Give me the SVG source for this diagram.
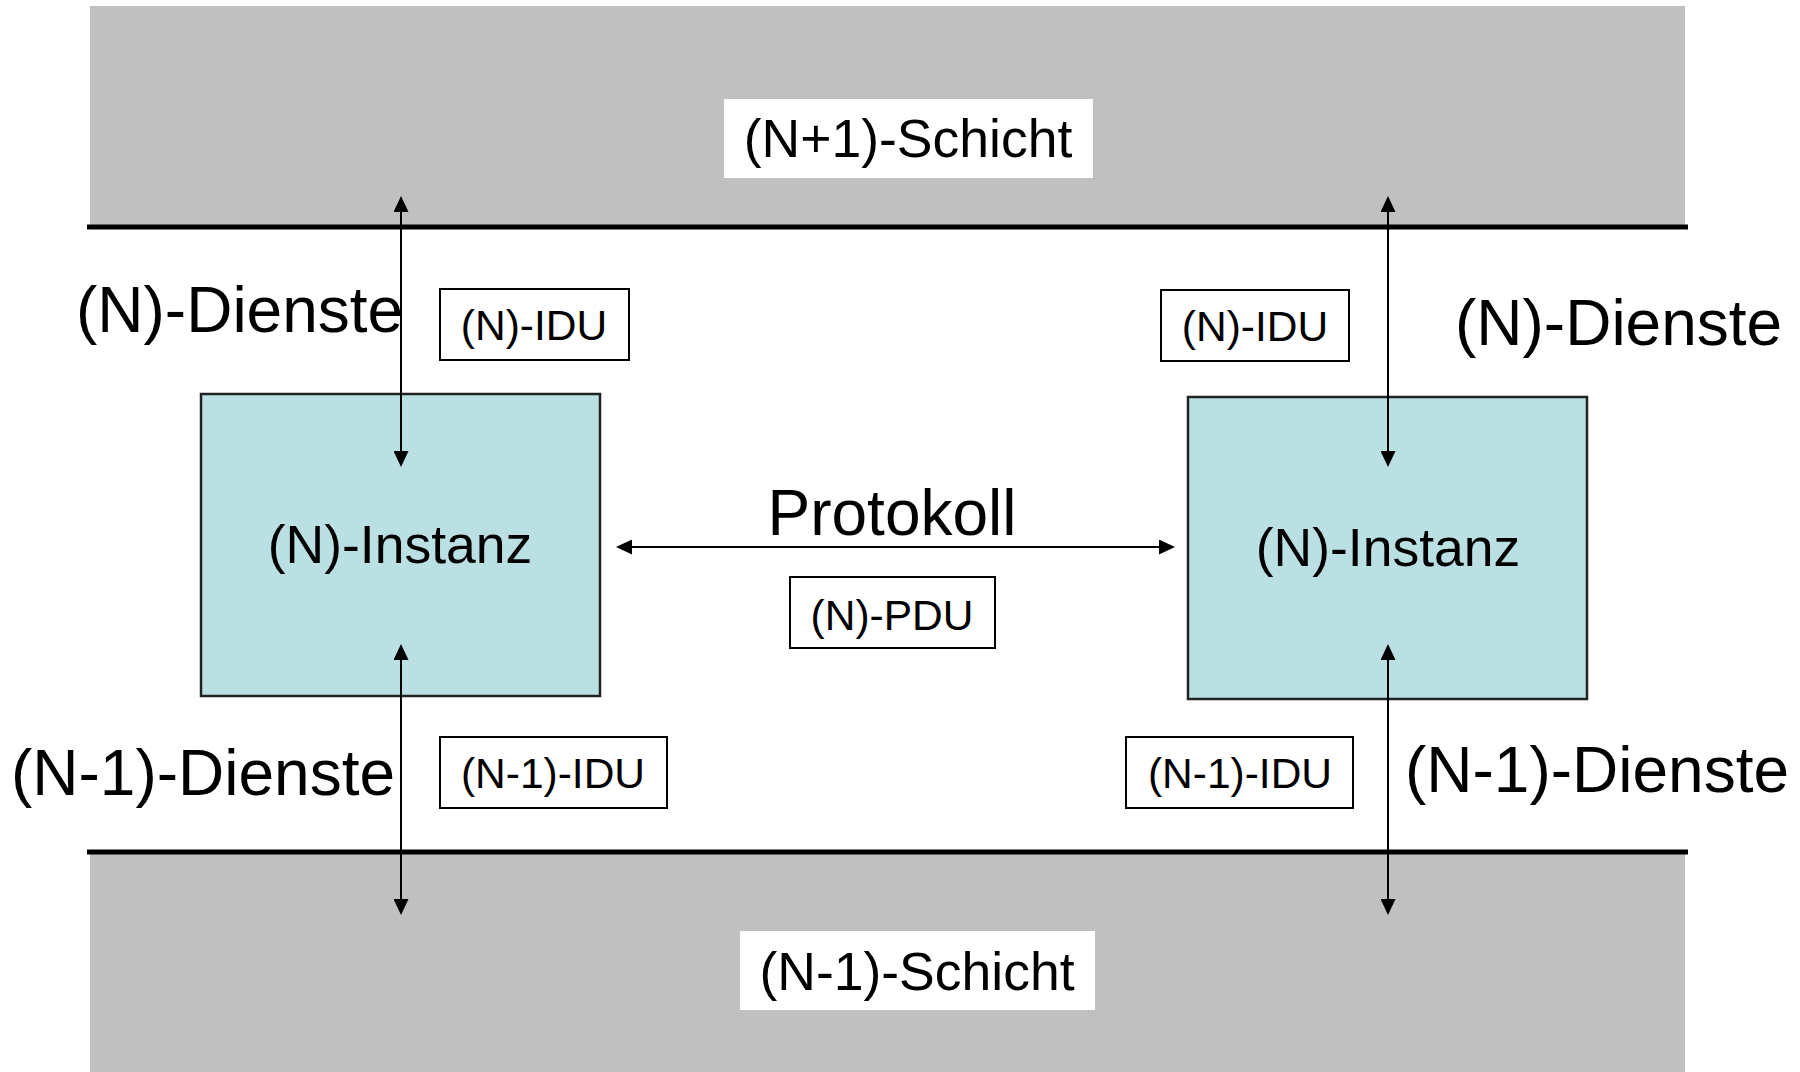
<svg xmlns="http://www.w3.org/2000/svg" width="1800" height="1072" viewBox="0 0 1800 1072">
  <style>
    text { font-family: "Liberation Sans", Arial, sans-serif; fill: #000; }
    .big { font-size: 64px; }
    .mid { font-size: 53.5px; }
    .small { font-size: 42.5px; }
    .layer { fill: #c0c0c0; }
    .tag { fill: #fff; }
    .boundary { stroke: #000; stroke-width: 5; fill: none; }
    .inst { fill: #bbe0e3; stroke: #222; stroke-width: 2.5; }
    .pdu { fill: #fff; stroke: #000; stroke-width: 2; }
    .conn { stroke: #000; stroke-width: 2; fill: none; marker-start: url(#head); marker-end: url(#head); }
  </style>
  <defs>
    <marker id="head" viewBox="0 0 16 15" markerWidth="16" markerHeight="15" refX="14" refY="7.5" orient="auto-start-reverse" markerUnits="userSpaceOnUse">
      <path d="M0,0 L16,7.5 L0,15 z" fill="#000"/>
    </marker>
  </defs>

  <rect width="1800" height="1072" fill="#fff"/>

  <!-- upper layer -->
  <g id="layer-upper">
    <rect class="layer" x="90" y="6" width="1595" height="221"/>
    <rect class="tag" x="724" y="99" width="369" height="79"/>
    <text class="mid" x="908" y="157" text-anchor="middle">(N+1)-Schicht</text>
  </g>

  <!-- lower layer -->
  <g id="layer-lower">
    <rect class="layer" x="90" y="852" width="1595" height="220"/>
    <rect class="tag" x="740" y="931" width="355" height="79"/>
    <text class="mid" x="917" y="990" text-anchor="middle">(N-1)-Schicht</text>
  </g>

  <!-- layer boundaries -->
  <g id="boundaries">
    <line class="boundary" x1="87" y1="227" x2="1688" y2="227"/>
    <line class="boundary" x1="87" y1="852" x2="1688" y2="852"/>
  </g>

  <!-- instances -->
  <g id="instance-left">
    <rect class="inst" x="201" y="394" width="399" height="302"/>
    <text class="mid" x="400" y="563" text-anchor="middle">(N)-Instanz</text>
  </g>
  <g id="instance-right">
    <rect class="inst" x="1188" y="397" width="399" height="302"/>
    <text class="mid" x="1388" y="566" text-anchor="middle">(N)-Instanz</text>
  </g>

  <!-- data unit tags -->
  <g id="idu-n-left">
    <rect class="pdu" x="440" y="289" width="189" height="71"/>
    <text class="small" x="534" y="340" text-anchor="middle">(N)-IDU</text>
  </g>
  <g id="idu-n-right">
    <rect class="pdu" x="1161" y="290" width="188" height="71"/>
    <text class="small" x="1255" y="341" text-anchor="middle">(N)-IDU</text>
  </g>
  <g id="idu-n1-left">
    <rect class="pdu" x="440" y="737" width="227" height="71"/>
    <text class="small" x="553" y="788" text-anchor="middle">(N-1)-IDU</text>
  </g>
  <g id="idu-n1-right">
    <rect class="pdu" x="1126" y="737" width="227" height="71"/>
    <text class="small" x="1240" y="788" text-anchor="middle">(N-1)-IDU</text>
  </g>
  <g id="pdu">
    <rect class="pdu" x="790" y="577" width="205" height="71"/>
    <text class="small" x="892" y="630" text-anchor="middle">(N)-PDU</text>
  </g>

  <!-- service and protocol labels -->
  <g id="labels">
    <text class="big" x="76" y="332">(N)-Dienste</text>
    <text class="big" x="1455" y="345">(N)-Dienste</text>
    <text class="big" x="11" y="795">(N-1)-Dienste</text>
    <text class="big" x="1405" y="792">(N-1)-Dienste</text>
    <text class="big" x="892" y="535" text-anchor="middle">Protokoll</text>
  </g>

  <!-- connectors -->
  <g id="connectors">
    <line class="conn" x1="401" y1="198" x2="401" y2="465"/>
    <line class="conn" x1="1388" y1="198" x2="1388" y2="465"/>
    <line class="conn" x1="401" y1="646" x2="401" y2="913"/>
    <line class="conn" x1="1388" y1="646" x2="1388" y2="913"/>
    <line class="conn" x1="618" y1="547" x2="1173" y2="547"/>
  </g>
</svg>
